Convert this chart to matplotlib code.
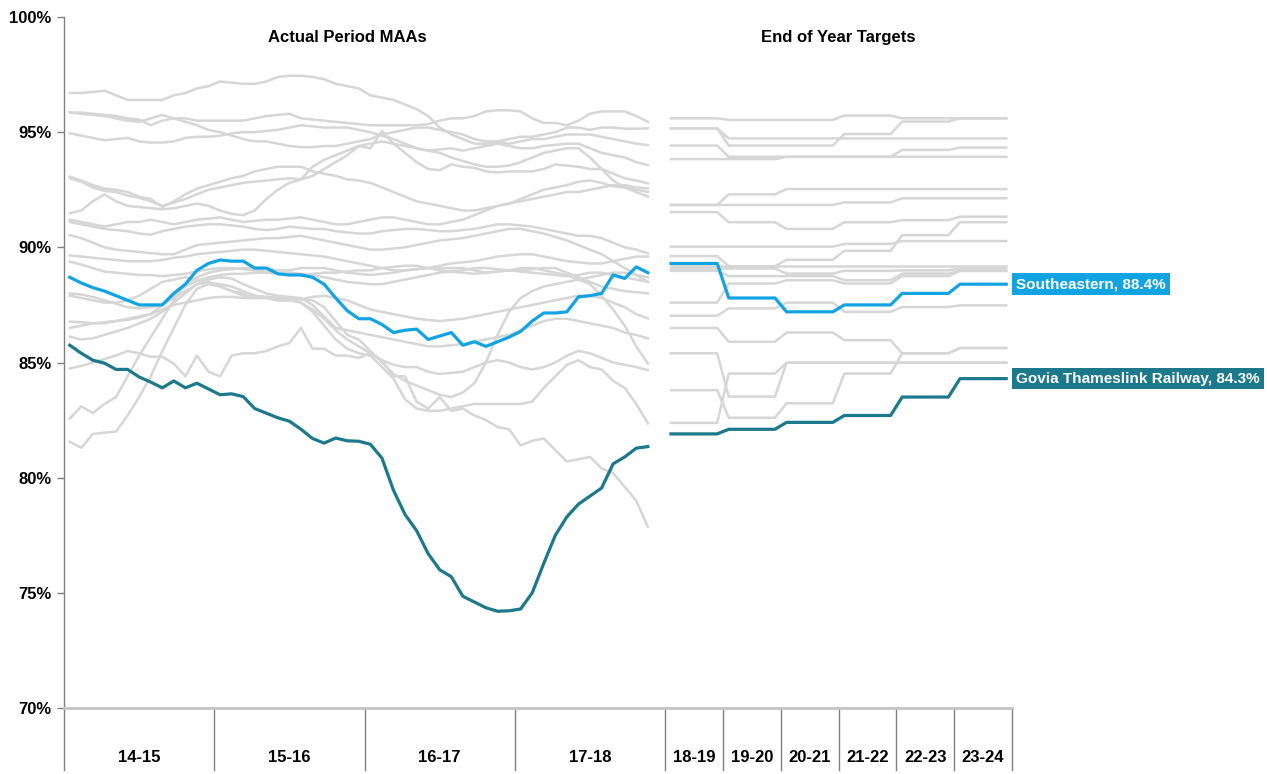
#!/usr/bin/env python3
"""Period MAAs by operator: actuals 14-15 to 17-18 and end of year targets to 23-24."""
import numpy as np
import matplotlib
matplotlib.use("Agg")
import matplotlib.pyplot as plt
from matplotlib.transforms import blended_transform_factory

plt.rcParams['font.family'] = ['Liberation Sans', 'DejaVu Sans']

ACTUAL_YEARS = ["14-15", "15-16", "16-17", "17-18"]
TARGET_YEARS = ["18-19", "19-20", "20-21", "21-22", "22-23", "23-24"]
PERIODS_PER_YEAR = 13
SLOTS_PER_TARGET = 5

# highlighted operators, period MAA (%)
southeastern_actual = [
    88.7, 88.45, 88.25, 88.1, 87.9, 87.7, 87.5, 87.5, 87.5, 88.0, 88.4, 89.0, 89.3,
    89.45, 89.4, 89.4, 89.1, 89.1, 88.85, 88.8, 88.8, 88.7, 88.4, 87.8, 87.25, 86.9,
    86.9, 86.65, 86.3, 86.4, 86.45, 86.0, 86.15, 86.3, 85.75, 85.9, 85.7, 85.9, 86.1,
    86.35, 86.8, 87.15, 87.15, 87.2, 87.85, 87.9, 88.0, 88.8, 88.65, 89.15, 88.9]
govia_actual = [
    85.75, 85.4, 85.1, 84.97, 84.7, 84.7, 84.37, 84.15, 83.9, 84.2, 83.9, 84.1, 83.85,
    83.6, 83.64, 83.52, 83.0, 82.8, 82.6, 82.45, 82.1, 81.7, 81.5, 81.72, 81.6, 81.58,
    81.45, 80.85, 79.45, 78.4, 77.7, 76.7, 76.0, 75.7, 74.85, 74.6, 74.35, 74.2, 74.22,
    74.3, 75.0, 76.28, 77.5, 78.3, 78.85, 79.2, 79.55, 80.6, 80.9, 81.28, 81.35]
southeastern_target = [89.3, 87.8, 87.2, 87.5, 88.0, 88.4]
govia_target = [81.9, 82.1, 82.4, 82.7, 83.5, 84.3]

# other operators, period MAA (%)
act_01 = [96.7, 96.7, 96.75, 96.8, 96.6, 96.4, 96.4, 96.4, 96.4, 96.6, 96.7, 96.9, 97.0,
          97.2, 97.15, 97.1, 97.1, 97.2, 97.4, 97.45, 97.45, 97.4, 97.3, 97.1, 97.0, 96.9,
          96.6, 96.5, 96.4, 96.2, 96.0, 95.7, 95.2, 94.9, 94.7, 94.5, 94.5, 94.6, 94.5,
          94.6, 94.7, 94.7, 94.8, 94.9, 94.9, 94.9, 94.8, 94.7, 94.6, 94.5, 94.44]
act_02 = [95.85, 95.85, 95.8, 95.75, 95.7, 95.6, 95.55, 95.3, 95.5, 95.6, 95.6, 95.5, 95.5,
          95.5, 95.5, 95.5, 95.6, 95.7, 95.75, 95.8, 95.6, 95.55, 95.5, 95.45, 95.4, 95.35,
          95.3, 95.3, 95.3, 95.3, 95.3, 95.35, 95.5, 95.6, 95.6, 95.7, 95.9, 95.95, 95.95,
          95.9, 95.6, 95.4, 95.4, 95.3, 95.5, 95.8, 95.9, 95.9, 95.9, 95.7, 95.45]
act_03 = [95.85, 95.8, 95.75, 95.7, 95.6, 95.5, 95.45, 95.6, 95.75, 95.6, 95.45, 95.3, 95.1,
          95.0, 94.85, 94.7, 94.6, 94.6, 94.5, 94.4, 94.35, 94.35, 94.4, 94.4, 94.5, 94.6,
          94.7, 94.9, 95.0, 95.1, 95.2, 95.2, 95.1, 95.0, 94.9, 94.7, 94.6, 94.6, 94.7,
          94.8, 94.8, 94.9, 95.0, 95.2, 95.2, 95.1, 95.2, 95.2, 95.15, 95.15, 95.17]
act_04 = [94.95, 94.85, 94.75, 94.65, 94.7, 94.75, 94.6, 94.55, 94.55, 94.6, 94.75, 94.8, 94.8,
          94.85, 94.95, 95.0, 95.0, 95.05, 95.1, 95.2, 95.3, 95.25, 95.2, 95.2, 95.2, 95.1,
          95.0, 94.85, 94.7, 94.5, 94.3, 94.2, 94.25, 94.3, 94.2, 94.3, 94.4, 94.5, 94.4,
          94.3, 94.3, 94.4, 94.45, 94.5, 94.5, 94.3, 94.1, 94.0, 93.9, 93.7, 93.57]
act_05 = [93.07, 92.9, 92.7, 92.55, 92.5, 92.4, 92.2, 92.1, 91.75, 92.0, 92.3, 92.55, 92.7,
          92.85, 93.0, 93.1, 93.3, 93.4, 93.5, 93.5, 93.5, 93.3, 93.2, 93.1, 92.95, 92.9,
          92.8, 92.6, 92.4, 92.2, 92.0, 91.9, 91.8, 91.7, 91.6, 91.6, 91.7, 91.8, 91.9,
          92.1, 92.3, 92.5, 92.6, 92.7, 92.85, 92.9, 92.8, 92.65, 92.6, 92.5, 92.41]
act_06 = [93.0, 92.85, 92.6, 92.45, 92.4, 92.25, 92.15, 92.0, 91.8, 91.95, 92.1, 92.3, 92.5,
          92.6, 92.7, 92.8, 92.85, 92.9, 92.95, 93.0, 92.95, 93.1, 93.4, 93.7, 94.0, 94.4,
          94.3, 95.05, 94.5, 94.1, 93.7, 93.4, 93.35, 93.6, 93.5, 93.45, 93.3, 93.25, 93.3,
          93.3, 93.3, 93.4, 93.6, 93.55, 93.5, 93.4, 93.4, 93.2, 93.0, 92.9, 92.78]
act_07 = [91.48, 91.6, 92.0, 92.3, 92.0, 91.8, 91.75, 91.7, 91.65, 91.7, 91.8, 91.9, 91.8,
          91.6, 91.45, 91.4, 91.6, 92.1, 92.5, 92.8, 92.95, 93.5, 93.8, 94.0, 94.2, 94.4,
          94.5, 94.6, 94.5, 94.4, 94.3, 94.2, 94.1, 93.9, 93.75, 93.6, 93.5, 93.5, 93.55,
          93.7, 93.9, 94.1, 94.2, 94.3, 94.3, 93.9, 93.4, 92.9, 92.6, 92.4, 92.2]
act_08 = [91.2, 91.1, 91.0, 90.9, 91.0, 91.1, 91.1, 91.2, 91.1, 91.0, 91.1, 91.2, 91.25,
          91.3, 91.2, 91.1, 91.15, 91.2, 91.2, 91.25, 91.3, 91.2, 91.1, 91.0, 91.0, 91.1,
          91.2, 91.3, 91.3, 91.2, 91.1, 91.0, 91.0, 91.1, 91.2, 91.4, 91.6, 91.8, 91.9,
          92.0, 92.1, 92.2, 92.3, 92.4, 92.4, 92.5, 92.6, 92.7, 92.7, 92.6, 92.56]
act_09 = [91.1, 91.0, 90.9, 90.8, 90.75, 90.7, 90.6, 90.55, 90.7, 90.8, 90.9, 90.95, 91.0,
          91.0, 90.95, 90.9, 90.8, 90.75, 90.8, 90.9, 90.85, 90.8, 90.8, 90.7, 90.65, 90.6,
          90.6, 90.7, 90.75, 90.8, 90.8, 90.75, 90.7, 90.7, 90.75, 90.8, 90.9, 91.0, 91.0,
          90.95, 90.9, 90.8, 90.7, 90.6, 90.5, 90.5, 90.4, 90.2, 90.0, 89.9, 89.74]
act_10 = [90.53, 90.4, 90.2, 90.0, 89.9, 89.85, 89.8, 89.75, 89.7, 89.7, 89.9, 90.1, 90.15,
          90.2, 90.25, 90.3, 90.35, 90.4, 90.4, 90.45, 90.5, 90.4, 90.3, 90.2, 90.1, 90.0,
          89.9, 89.9, 89.95, 90.0, 90.1, 90.2, 90.3, 90.35, 90.4, 90.5, 90.6, 90.7, 90.8,
          90.8, 90.7, 90.6, 90.45, 90.3, 90.1, 89.9, 89.7, 89.4, 89.1, 88.8, 88.5]
act_11 = [89.65, 89.6, 89.55, 89.5, 89.45, 89.4, 89.4, 89.4, 89.45, 89.55, 89.6, 89.7, 89.75,
          89.8, 89.85, 89.9, 89.9, 89.85, 89.8, 89.75, 89.7, 89.65, 89.6, 89.5, 89.4, 89.3,
          89.2, 89.1, 89.0, 89.0, 89.05, 89.1, 89.2, 89.3, 89.35, 89.4, 89.5, 89.6, 89.65,
          89.7, 89.7, 89.6, 89.5, 89.4, 89.35, 89.3, 89.3, 89.4, 89.5, 89.6, 89.6]
act_12 = [89.38, 89.25, 89.1, 88.95, 88.9, 88.85, 88.8, 88.8, 88.75, 88.8, 88.85, 88.95, 89.05,
          89.1, 89.1, 89.05, 89.0, 88.95, 88.9, 88.9, 88.85, 88.8, 88.7, 88.6, 88.5, 88.45,
          88.4, 88.4, 88.5, 88.6, 88.7, 88.8, 88.9, 88.95, 89.0, 89.1, 89.1, 89.05, 89.0,
          89.0, 89.05, 89.1, 89.1, 88.9, 88.7, 88.5, 88.3, 88.2, 88.1, 88.05, 88.0]
act_13 = [88.0, 87.95, 87.85, 87.7, 87.55, 87.4, 87.35, 87.4, 87.5, 87.8, 88.1, 88.4, 88.45,
          88.4, 88.3, 88.1, 87.9, 87.8, 87.7, 87.7, 87.75, 87.85, 87.9, 87.8, 87.7, 87.5,
          87.3, 87.2, 87.1, 87.0, 86.9, 86.85, 86.8, 86.85, 86.9, 87.0, 87.1, 87.2, 87.3,
          87.4, 87.5, 87.6, 87.7, 87.8, 87.9, 87.9, 87.8, 87.6, 87.4, 87.1, 86.92]
act_14 = [86.77, 86.75, 86.7, 86.75, 86.8, 86.85, 86.95, 87.1, 87.5, 87.9, 88.3, 88.55, 88.7,
          88.8, 88.85, 88.85, 88.9, 88.9, 88.85, 88.8, 88.8, 88.85, 88.9, 88.9, 88.95, 89.0,
          89.0, 89.1, 89.15, 89.2, 89.2, 89.1, 89.0, 88.95, 88.9, 88.85, 88.9, 88.95, 89.0,
          88.95, 88.9, 88.85, 88.8, 88.75, 88.8, 88.9, 88.9, 88.8, 88.7, 88.6, 88.5]
act_15 = [86.12, 86.0, 86.05, 86.2, 86.35, 86.5, 86.7, 86.9, 87.2, 87.6, 88.0, 88.4, 88.6,
          88.7, 88.65, 88.4, 88.2, 88.0, 87.9, 87.85, 87.8, 87.5, 87.0, 86.5, 86.4, 86.3,
          86.2, 86.1, 86.0, 85.9, 85.8, 85.7, 85.7, 85.75, 85.8, 85.9, 86.0, 86.1, 86.2,
          86.4, 86.6, 86.8, 86.9, 86.9, 86.8, 86.7, 86.6, 86.5, 86.3, 86.2, 86.05]
act_16 = [84.74, 84.85, 85.0, 85.15, 85.3, 85.5, 85.4, 85.25, 85.25, 84.95, 84.4, 85.3, 84.6,
          84.4, 85.3, 85.4, 85.4, 85.5, 85.7, 85.85, 86.5, 85.6, 85.6, 85.3, 85.3, 85.2,
          85.4, 85.1, 84.4, 84.4, 83.3, 83.0, 83.5, 82.9, 83.0, 82.7, 82.5, 82.2, 82.1,
          81.4, 81.6, 81.7, 81.2, 80.7, 80.8, 80.9, 80.4, 80.2, 79.6, 79.0, 77.87]
act_17 = [82.57, 83.1, 82.8, 83.2, 83.5, 84.4, 85.3, 86.1, 86.9, 87.7, 88.4, 88.7, 88.9,
          89.0, 89.05, 89.1, 89.1, 89.1, 89.0, 89.0, 89.1, 89.1, 89.1, 89.0, 88.9, 88.85,
          88.8, 88.85, 88.9, 89.0, 89.05, 89.1, 89.1, 89.1, 89.1, 89.0, 88.9, 88.95, 89.0,
          89.1, 89.1, 89.0, 88.9, 88.8, 88.6, 88.4, 87.9, 87.3, 86.6, 85.7, 84.96]
act_18 = [81.56, 81.3, 81.9, 81.95, 82.0, 82.7, 83.5, 84.4, 85.5, 86.5, 87.5, 88.2, 88.4,
          88.3, 88.1, 88.0, 87.9, 87.85, 87.8, 87.8, 87.75, 87.7, 87.4, 86.8, 86.2, 86.0,
          85.5, 85.0, 84.5, 84.2, 84.0, 83.8, 83.6, 83.5, 83.7, 84.1, 85.0, 86.2, 87.2,
          87.8, 88.1, 88.3, 88.4, 88.5, 88.6, 88.7, 88.8, 88.9, 88.9, 88.8, 88.7]
act_19 = [86.5, 86.6, 86.7, 86.7, 86.8, 86.9, 87.0, 87.1, 87.3, 87.5, 87.6, 87.7, 87.8,
          87.85, 87.85, 87.8, 87.8, 87.85, 87.8, 87.75, 87.6, 87.2, 86.6, 86.0, 85.6, 85.4,
          85.3, 84.8, 84.3, 83.4, 83.0, 82.9, 82.9, 83.0, 83.1, 83.2, 83.2, 83.2, 83.2,
          83.2, 83.3, 83.9, 84.4, 84.9, 85.1, 84.8, 84.7, 84.2, 83.9, 83.2, 82.36]
act_20 = [87.9, 87.8, 87.7, 87.6, 87.6, 87.7, 87.9, 88.2, 88.5, 88.6, 88.7, 88.6, 88.5,
          88.3, 88.1, 87.9, 87.8, 87.8, 87.7, 87.7, 87.6, 87.3, 86.9, 86.4, 86.0, 85.7,
          85.4, 85.1, 84.9, 84.8, 84.8, 84.6, 84.5, 84.55, 84.6, 84.8, 85.0, 85.1, 85.0,
          84.8, 84.7, 84.8, 85.0, 85.3, 85.5, 85.4, 85.2, 85.0, 84.9, 84.8, 84.67]

# other operators, end of year targets (%)
tgt_01 = [95.6, 95.53, 95.53, 95.72, 95.6, 95.6]
tgt_02 = [95.17, 94.42, 94.42, 94.92, 95.46, 95.6]
tgt_03 = [95.17, 94.73, 94.73, 94.73, 94.73, 94.73]
tgt_04 = [94.42, 93.93, 93.93, 93.93, 94.23, 94.33]
tgt_05 = [93.83, 93.83, 93.93, 93.93, 93.93, 93.93]
tgt_06 = [91.84, 92.3, 92.53, 92.53, 92.53, 92.53]
tgt_07 = [91.84, 91.84, 91.84, 91.95, 92.13, 92.13]
tgt_08 = [91.53, 91.09, 90.8, 91.09, 91.18, 91.33]
tgt_09 = [90.03, 90.03, 90.03, 90.15, 90.27, 90.27]
tgt_10 = [89.62, 89.18, 89.46, 89.85, 90.53, 91.09]
tgt_11 = [89.18, 89.18, 89.18, 89.18, 89.18, 89.18]
tgt_12 = [89.08, 89.08, 88.86, 88.98, 89.0, 89.08]
tgt_13 = [88.98, 88.75, 88.75, 88.57, 88.86, 88.98]
tgt_14 = [87.6, 88.43, 88.57, 88.43, 88.75, 88.98]
tgt_15 = [87.03, 87.35, 87.6, 87.2, 87.41, 87.48]
tgt_16 = [86.5, 85.9, 86.3, 85.97, 85.4, 85.63]
tgt_17 = [85.4, 83.52, 84.99, 84.99, 84.99, 84.99]
tgt_18 = [83.8, 82.6, 83.23, 84.52, 85.4, 85.63]
tgt_19 = [82.38, 84.52, 84.99, 84.99, 84.99, 84.99]

GRAY_ACTUAL = [act_01, act_02, act_03, act_04, act_05, act_06, act_07, act_08, act_09, act_10,
               act_11, act_12, act_13, act_14, act_15, act_16, act_17, act_18, act_19, act_20]
GRAY_TARGET = [tgt_01, tgt_02, tgt_03, tgt_04, tgt_05, tgt_06, tgt_07, tgt_08, tgt_09, tgt_10,
               tgt_11, tgt_12, tgt_13, tgt_14, tgt_15, tgt_16, tgt_17, tgt_18, tgt_19]

GRAY = '#D6D6D6'
BLUE = '#12A3E3'
TEAL = '#1B798B'
AXIS = '#808080'


def main():
    W, H = 1267, 774
    fig = plt.figure(figsize=(W / 100, H / 100), dpi=100)
    ax = fig.add_axes([64 / W, 1 - 708 / H, (1012 - 64) / W, (708 - 17) / H])

    n_act = len(ACTUAL_YEARS) * PERIODS_PER_YEAR
    n_tgt = len(TARGET_YEARS) * SLOTS_PER_TARGET
    x_tgt = n_act + np.arange(n_tgt)

    for vals in GRAY_ACTUAL:
        ax.plot(np.arange(len(vals)), vals, color=GRAY, lw=1.8, solid_joinstyle='round')
    for vals in GRAY_TARGET:
        ax.plot(x_tgt, np.repeat(vals, SLOTS_PER_TARGET), color=GRAY, lw=1.8,
                solid_joinstyle='round')

    for act, tgt, col in [(southeastern_actual, southeastern_target, BLUE),
                          (govia_actual, govia_target, TEAL)]:
        ax.plot(np.arange(len(act)), act, color=col, lw=2.3, solid_joinstyle='round', zorder=3)
        ax.plot(x_tgt, np.repeat(tgt, SLOTS_PER_TARGET), color=col, lw=2.3,
                solid_joinstyle='round', zorder=3)

    ax.set_xlim(-0.5, n_act + n_tgt - 0.5)
    ax.set_ylim(70, 100)
    ax.set_xticks([])
    yt = list(range(70, 101, 5))
    ax.set_yticks(yt)
    ax.set_yticklabels([f"{v}%" for v in yt], fontsize=12, fontweight='bold')
    ax.tick_params(axis='y', length=5, width=1, color=AXIS, direction='out', pad=4)
    for s in ['top', 'right']:
        ax.spines[s].set_visible(False)
    ax.spines['left'].set_color(AXIS)
    ax.spines['left'].set_linewidth(1)
    ax.spines['bottom'].set_color('#C4C4C4')
    ax.spines['bottom'].set_linewidth(2)

    # category separators and labels below the axis
    trans = blended_transform_factory(ax.transData, ax.transAxes)
    bounds = [i * PERIODS_PER_YEAR - 0.5 for i in range(len(ACTUAL_YEARS) + 1)]
    bounds += [n_act - 0.5 + (k + 1) * SLOTS_PER_TARGET for k in range(len(TARGET_YEARS))]
    for b in bounds:
        ax.plot([b, b], [0, -0.09], color=AXIS, lw=1, transform=trans, clip_on=False)
    for i, lab in enumerate(ACTUAL_YEARS):
        ax.text(i * PERIODS_PER_YEAR + PERIODS_PER_YEAR / 2 - 0.5, -0.071, lab, transform=trans,
                ha='center', va='center', fontsize=12, fontweight='bold')
    for k, lab in enumerate(TARGET_YEARS):
        ax.text(n_act + k * SLOTS_PER_TARGET + SLOTS_PER_TARGET / 2 - 0.5, -0.071, lab,
                transform=trans, ha='center', va='center', fontsize=12, fontweight='bold')

    ax.text(24, 99.1, "Actual Period MAAs", ha='center', va='center',
            fontsize=12, fontweight='bold')
    ax.text(n_act + n_tgt / 2 - 0.5, 99.1, "End of Year Targets", ha='center', va='center',
            fontsize=12, fontweight='bold')

    xr = n_act + n_tgt - 0.5
    for name, tgt, col in [("Southeastern", southeastern_target, BLUE),
                           ("Govia Thameslink Railway", govia_target, TEAL)]:
        ax.annotate(f"{name}, {tgt[-1]:.1f}%", xy=(xr, tgt[-1]), xytext=(3, 0),
                    textcoords='offset points', ha='left', va='center', color='white',
                    fontsize=11, fontweight='bold', annotation_clip=False,
                    bbox=dict(boxstyle='square,pad=0.25', fc=col, ec='none'))

    fig.savefig("out.png", dpi=100)
    plt.close(fig)


if __name__ == "__main__":
    main()
